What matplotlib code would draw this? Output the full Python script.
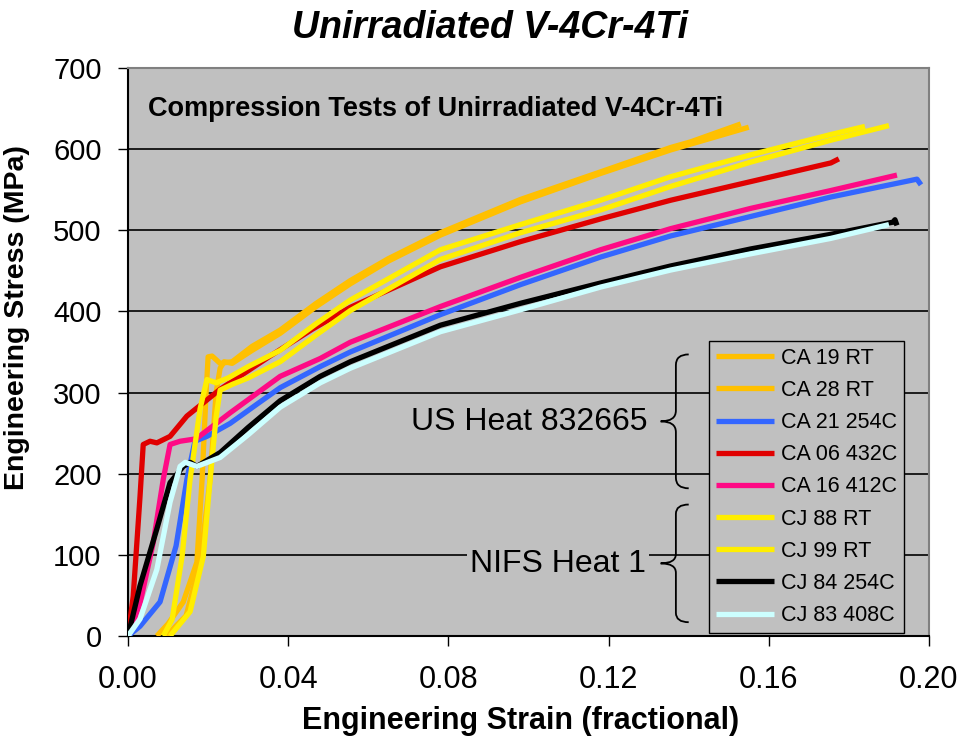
import matplotlib
matplotlib.use("Agg")
import matplotlib.pyplot as plt
from matplotlib.path import Path
from matplotlib.patches import PathPatch

plt.rcParams['font.family'] = ['Liberation Sans', 'DejaVu Sans']

# ---- data (strain, stress MPa) ----
ca19_x = [0.0072, 0.010, 0.0138, 0.0172, 0.0185, 0.0195, 0.0200, 0.0210, 0.0230, 0.0260, 0.0310, 0.038, 0.047, 0.0555, 0.065, 0.078, 0.098, 0.118, 0.1355, 0.1405, 0.153]
ca19_y = [0, 15, 42, 91, 193, 300, 344, 345, 336, 338, 357, 377, 410, 438, 465, 497, 538, 572, 602, 609, 631]

ca28_x = [0.0095, 0.0145, 0.018, 0.0205, 0.022, 0.023, 0.024, 0.026, 0.031, 0.038, 0.047, 0.0555, 0.065, 0.078, 0.098, 0.118, 0.1355, 0.155]
ca28_y = [0, 25, 90, 193, 300, 330, 338, 336, 352, 373, 406, 434, 462, 494, 535, 570, 599, 627]

ca21_x = [0, 0.003, 0.008, 0.012, 0.0147, 0.0167, 0.0197, 0.0255, 0.032, 0.038, 0.048, 0.0555, 0.078, 0.098, 0.118, 0.1355, 0.1555, 0.1755, 0.197, 0.198]
ca21_y = [0, 12, 42, 111, 193, 240, 246, 262, 285, 306, 332, 350, 396, 433, 467, 493, 517, 541, 563, 556]

ca06_x = [0, 0.0013, 0.003, 0.0038, 0.0055, 0.0072, 0.0105, 0.0147, 0.023, 0.0355, 0.046, 0.0555, 0.078, 0.098, 0.118, 0.1355, 0.1555, 0.1755, 0.1775]
ca06_y = [0, 49, 172, 236, 240, 238, 246, 271, 304, 345, 378, 405, 455, 486, 514, 537, 560, 583, 588]

ca16_x = [0, 0.003, 0.0063, 0.0088, 0.0105, 0.013, 0.017, 0.0255, 0.038, 0.048, 0.0555, 0.078, 0.098, 0.118, 0.1355, 0.1555, 0.1755, 0.192]
ca16_y = [0, 40, 115, 193, 236, 240, 243, 275, 320, 342, 362, 406, 442, 476, 502, 527, 549, 568]

cj88_x = [0.0088, 0.011, 0.0135, 0.0155, 0.018, 0.0197, 0.022, 0.025, 0.030, 0.038, 0.047, 0.0555, 0.078, 0.098, 0.118, 0.1355, 0.1555, 0.1755, 0.184]
cj88_y = [0, 20, 98, 193, 280, 316, 312, 318, 332, 352, 385, 414, 476, 507, 537, 566, 593, 618, 628]

cj99_x = [0.0105, 0.0155, 0.0188, 0.0205, 0.022, 0.023, 0.026, 0.030, 0.038, 0.047, 0.0555, 0.078, 0.098, 0.118, 0.1355, 0.1555, 0.1755, 0.190]
cj99_y = [0, 30, 98, 193, 270, 303, 310, 318, 338, 371, 401, 464, 497, 525, 554, 584, 611, 629]

cj84_x = [0, 0.003, 0.0072, 0.0105, 0.0138, 0.0155, 0.0172, 0.023, 0.030, 0.038, 0.048, 0.0555, 0.078, 0.098, 0.118, 0.1355, 0.1555, 0.1755, 0.191, 0.1915, 0.192]
cj84_y = [0, 62, 132, 189, 209, 214, 209, 226, 257, 290, 320, 338, 383, 410, 435, 456, 477, 495, 510, 513, 506]

cj83_x = [0, 0.003, 0.0072, 0.0105, 0.013, 0.0143, 0.0172, 0.023, 0.030, 0.038, 0.048, 0.0555, 0.078, 0.098, 0.118, 0.1355, 0.1555, 0.1755, 0.190]
cj83_y = [0, 21, 82, 165, 209, 214, 209, 220, 248, 282, 312, 330, 375, 402, 430, 451, 471, 490, 507]

series_x = [ca19_x, ca28_x, ca21_x, ca06_x, ca16_x, cj88_x, cj99_x, cj84_x, cj83_x]
series_y = [ca19_y, ca28_y, ca21_y, ca06_y, ca16_y, cj88_y, cj99_y, cj84_y, cj83_y]
labels = ["CA 19 RT", "CA 28 RT", "CA 21 254C", "CA 06 432C", "CA 16 412C",
          "CJ 88 RT", "CJ 99 RT", "CJ 84 254C", "CJ 83 408C"]
colors = ["#FFC000", "#FFC000", "#3366FF", "#E00000", "#FF0A85",
          "#FFEE00", "#FFEE00", "#000000", "#CCFFFF"]

x_ticks = [0.00, 0.04, 0.08, 0.12, 0.16, 0.20]
y_ticks = [0, 100, 200, 300, 400, 500, 600, 700]

fig = plt.figure(figsize=(9.61, 7.47), dpi=100)
ax = fig.add_axes([0.1332, 0.1486, 0.8335, 0.7604])
ax.set_facecolor("#C0C0C0")

for v in y_ticks[1:-1]:
    ax.axhline(v, color="black", lw=1.2, zorder=1)

for xs, ys, lab, c in zip(series_x, series_y, labels, colors):
    ax.plot(xs, ys, color=c, lw=3.8, label=lab, zorder=3, solid_capstyle='butt')

ax.set_xlim(0, 0.20)
ax.set_ylim(0, 700)
ax.set_xticks(x_ticks)
ax.set_xticklabels([f"{t:.2f}" for t in x_ticks])
ax.set_yticks(y_ticks)
ax.tick_params(axis='both', direction='out', length=7, width=1)
ax.tick_params(axis='x', labelsize=22, pad=14)
ax.tick_params(axis='y', labelsize=21, pad=12)
for s in ax.spines.values():
    s.set_color("#808080")
    s.set_linewidth(1.5)
ax.spines['left'].set_color("black")
ax.spines['bottom'].set_color("black")

ax.set_xlabel("Engineering Strain (fractional)", fontsize=22, fontweight='bold')
ax.xaxis.set_label_coords(0.49, -0.124)
ax.set_ylabel("Engineering Stress (MPa)", fontsize=20.5, fontweight='bold')
ax.yaxis.set_label_coords(-0.122, 0.56)
fig.text(0.51, 0.962, "Unirradiated V-4Cr-4Ti", ha='center', va='center',
         fontsize=27, fontweight='bold', fontstyle='italic')
ax.text(0.005, 650, "Compression Tests of Unirradiated V-4Cr-4Ti", fontsize=19.5,
        fontweight='bold', ha='left', va='center', zorder=4)

leg = ax.legend(loc='upper left', bbox_to_anchor=(0.7254, 0.519), fontsize=15.5,
                frameon=True, fancybox=False, edgecolor='black', facecolor='#C0C0C0',
                framealpha=1, handlelength=2.7, handletextpad=0.35, labelspacing=0.52,
                borderpad=0.3, borderaxespad=0)
leg.get_frame().set_linewidth(1.0)
leg.set_zorder(5)

# group labels
ax.text(0.1298, 264, "US Heat 832665", fontsize=23, ha='right', va='center', zorder=4)
ax.text(0.1293, 89, "NIFS Heat 1", fontsize=23, ha='right', va='center', zorder=4,
        bbox=dict(facecolor='#C0C0C0', edgecolor='none', pad=2))

def brace(ax, x_tip, x_mid, x_end, y_top, y_bot):
    y_mid = (y_top + y_bot) / 2
    r = (y_top - y_bot) * 0.08
    verts = [(x_end, y_top), (x_mid, y_top), (x_mid, y_top - r),
             (x_mid, y_mid + r),
             (x_mid, y_mid), (x_tip, y_mid),
             (x_mid, y_mid), (x_mid, y_mid - r),
             (x_mid, y_bot + r),
             (x_mid, y_bot), (x_end, y_bot)]
    codes = [Path.MOVETO, Path.CURVE3, Path.CURVE3,
             Path.LINETO,
             Path.CURVE3, Path.CURVE3,
             Path.CURVE3, Path.CURVE3,
             Path.LINETO,
             Path.CURVE3, Path.CURVE3]
    ax.add_patch(PathPatch(Path(verts, codes), fill=False, lw=1.3, color='black', zorder=4))

brace(ax, 0.1330, 0.1368, 0.1400, 347, 182)
brace(ax, 0.1330, 0.1368, 0.1400, 162, 17)

fig.savefig("out.png", dpi=100)
